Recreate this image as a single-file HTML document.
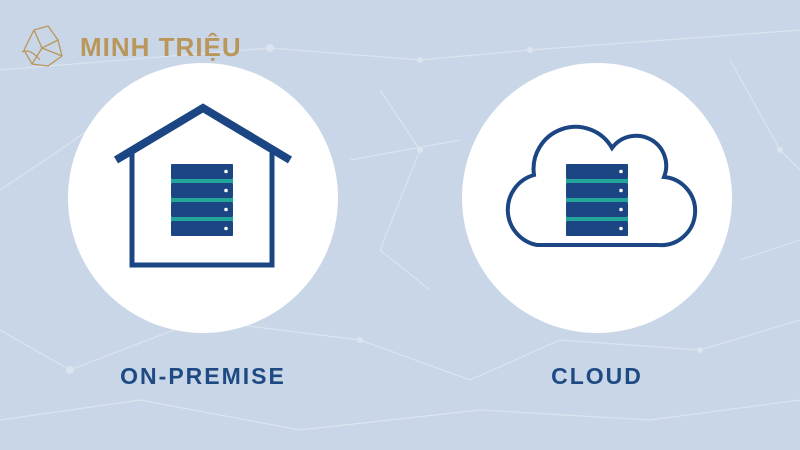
<!DOCTYPE html>
<html><head><style>
body{margin:0;width:800px;height:450px;overflow:hidden;background:#c9d6e7;font-family:"Liberation Sans",sans-serif}
</style></head><body>
<svg width="800" height="450" viewBox="0 0 800 450" style="position:absolute;left:0;top:0">
<g stroke="#dbe4ef" stroke-width="1.2" fill="none">
<path d="M0,70 L270,48 L420,60 L530,50 L800,30"/>
<path d="M0,190 L60,150 L130,100"/>
<path d="M0,330 L70,370 L200,320 L360,340 L470,380 L560,340 L700,350 L800,320"/>
<path d="M380,90 L420,150 L380,250 L430,290"/>
<path d="M730,60 L780,150 L800,170"/>
<path d="M0,420 L140,400 L300,430 L480,410 L650,420 L800,400"/>
<path d="M350,160 L460,140"/>
<path d="M740,260 L800,240"/>
</g>
<g fill="#dbe4ef"><circle cx="270" cy="48" r="4"/><circle cx="420" cy="60" r="3"/><circle cx="530" cy="50" r="3"/><circle cx="70" cy="370" r="4"/><circle cx="360" cy="340" r="3"/><circle cx="420" cy="150" r="3"/><circle cx="700" cy="350" r="3"/><circle cx="780" cy="150" r="3"/></g>
<circle cx="203" cy="198" r="135" fill="#fff"/>
<circle cx="597" cy="198" r="135" fill="#fff"/>
<g fill="none" stroke="#1c4683" stroke-width="5">
<path d="M116,160 L203,108 L290,160" stroke-width="8"/>
<path d="M132,152 V265 H272 V152"/>
<path d="M537,245 H658 A34 34 0 0 0 664,177 A30 30 0 0 0 612,148 A42 42 0 0 0 534,175 A36 36 0 0 0 537,245 Z" stroke-width="4"/>
</g>
<g id="srv">
<rect x="171" y="164" width="62" height="72" fill="#23a59a"/>
<rect x="171" y="164" width="62" height="15" rx="2" fill="#1c4683"/>
<rect x="171" y="183" width="62" height="15" rx="2" fill="#1c4683"/>
<rect x="171" y="202" width="62" height="15" rx="2" fill="#1c4683"/>
<rect x="171" y="221" width="62" height="15" rx="2" fill="#1c4683"/>
<g fill="#fff"><circle cx="226" cy="171.5" r="1.8"/><circle cx="226" cy="190.5" r="1.8"/><circle cx="226" cy="209.5" r="1.8"/><circle cx="226" cy="228.5" r="1.8"/></g>
</g>
<use href="#srv" transform="translate(395,0)"/>
<text x="203" y="384" text-anchor="middle" font-family="Liberation Sans" font-weight="bold" font-size="23" letter-spacing="2" fill="#1e4a84">ON-PREMISE</text>
<text x="597" y="384" text-anchor="middle" font-family="Liberation Sans" font-weight="bold" font-size="23" letter-spacing="2" fill="#1e4a84">CLOUD</text>
<g fill="none" stroke="#b9975b" stroke-width="1.3">
<path d="M24,50 L34,30 L48,26 L58,40 L62,56 L48,66 L32,64 Z M34,30 L42,48 L58,40 M42,48 L32,64 M42,48 L62,56 M22,52 Q30,48 40,60"/>
</g>
<text x="80" y="56" font-family="Liberation Sans" font-weight="bold" font-size="26" letter-spacing="1" fill="#b9975b">MINH TRIỆU</text>
</svg>
</body></html>
